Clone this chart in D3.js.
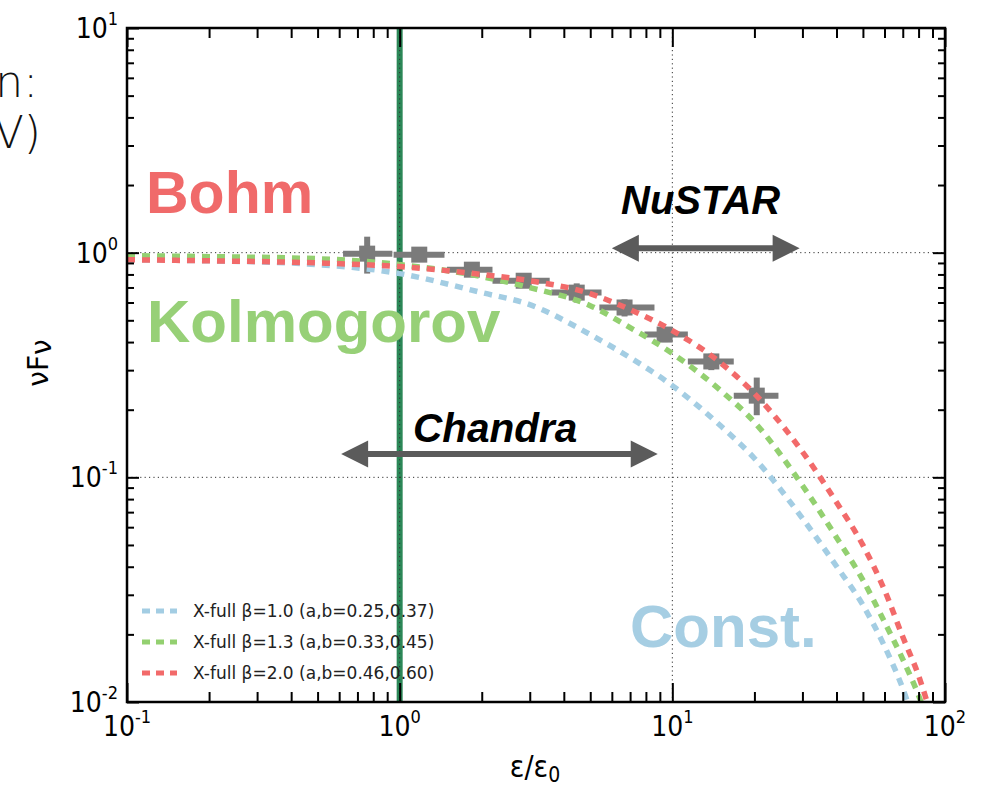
<!DOCTYPE html>
<html>
<head>
<meta charset="utf-8">
<script src="https://cdn.jsdelivr.net/npm/d3@7"></script>
<style>
  html, body { margin: 0; padding: 0; background: #fff; }
  svg { display: block; }
</style>
</head>
<body>
<svg id="chart" width="987" height="789"></svg>
<script>
// ---------------- DATA ----------------
const xTickExps = ["-1", "0", "1", "2"];
const yTickExps = ["-2", "-1", "0", "1"];

// data points (ε/ε0, νFν) with error ranges
const pointsX  = [0.76, 1.18, 1.84, 2.85, 4.46, 6.68, 9.37, 13.9, 20.4];
const pointsY  = [0.99, 0.98, 0.84, 0.75, 0.664, 0.57, 0.432, 0.328, 0.231];
const pointsXLo = [0.62, 0.95, 1.49, 2.19, 3.6, 5.4, 7.9, 11.4, 16.8];
const pointsXHi = [0.94, 1.46, 2.19, 3.55, 5.5, 8.6, 11.4, 16.8, 24.5];
const pointsYLo = [0.807, 0.93, 0.80, 0.71, 0.60, 0.52, 0.40, 0.30, 0.189];
const pointsYHi = [1.178, 1.03, 0.88, 0.79, 0.73, 0.62, 0.46, 0.355, 0.278];

// model curves
const curveX = [0.1, 0.2, 0.5, 1, 2, 3, 5, 7, 10, 15, 20, 30, 40, 50, 60, 70, 80, 90];
const beta10 = [0.93, 0.92, 0.885, 0.807, 0.664, 0.587, 0.432, 0.341, 0.256, 0.170, 0.1215, 0.0657, 0.0402, 0.027, 0.0177, 0.0115, 0.0072, 0.0053];
const beta13 = [0.97, 0.96, 0.94, 0.885, 0.782, 0.699, 0.581, 0.464, 0.356, 0.244, 0.176, 0.092, 0.054, 0.0349, 0.0227, 0.0155, 0.0107, 0.0072];
const beta20 = [0.93, 0.92, 0.90, 0.867, 0.80, 0.75, 0.657, 0.558, 0.45, 0.324, 0.236, 0.13, 0.0774, 0.0499, 0.0315, 0.0195, 0.0131, 0.0083];

const seriesLabels = ["X-full \u03b2=1.0 (a,b=0.25,0.37)", "X-full \u03b2=1.3 (a,b=0.33,0.45)", "X-full \u03b2=2.0 (a,b=0.46,0.60)"];
const seriesColors = ["#a3cde3", "#93d070", "#f26a6a"];

// instrument ranges
const chandraRange = [0.61, 8.84], chandraY = 0.127;
const nustarRange = [6.0, 29.3], nustarY = 1.046;
const markerLine = 1.0;

// ---------------- LAYOUT ----------------
const X0 = 127, X1 = 945, Y0 = 28, Y1 = 702;
const svg = d3.select("#chart");
const x = d3.scaleLog().domain([0.1, 100]).range([X0, X1]);
const y = d3.scaleLog().domain([0.01, 10]).range([Y1, Y0]);

const defs = svg.append("defs");
defs.append("clipPath").attr("id", "clip")
  .append("rect").attr("x", X0).attr("y", Y0).attr("width", X1 - X0).attr("height", Y1 - Y0);

// partial text at the left edge (cropped slide text, as in the reference)
const sideFont = "'DejaVu Sans', sans-serif";
svg.append("text").attr("x", 38).attr("y", 97).attr("text-anchor", "end")
  .attr("font-family", sideFont).attr("font-weight", 200).attr("font-size", 44).attr("fill", "#111").text("n:");
svg.append("text").attr("x", 41).attr("y", 148).attr("text-anchor", "end")
  .attr("font-family", sideFont).attr("font-weight", 200).attr("font-size", 44).attr("fill", "#111").text("V)");

const plot = svg.append("g").attr("clip-path", "url(#clip)");

// vertical green line at ε/ε0 = 1
plot.append("line")
  .attr("x1", x(markerLine)).attr("x2", x(markerLine))
  .attr("y1", Y0).attr("y2", Y1)
  .attr("stroke", "#2b8757").attr("stroke-width", 6);

// grid lines
const gridX = [1, 10], gridY = [0.1, 1];
plot.selectAll(".gx").data(gridX).enter().append("line")
  .attr("x1", d => x(d)).attr("x2", d => x(d)).attr("y1", Y0).attr("y2", Y1)
  .attr("stroke", "#333").attr("stroke-width", 1).attr("stroke-dasharray", "1.2,3.2");
plot.selectAll(".gy").data(gridY).enter().append("line")
  .attr("x1", X0).attr("x2", X1).attr("y1", d => y(d)).attr("y2", d => y(d))
  .attr("stroke", "#333").attr("stroke-width", 1).attr("stroke-dasharray", "1.2,3.2");

// data points
const ptColor = "#7b7b7b";
const pts = pointsX.map((v, i) => ({x: v, y: pointsY[i], xl: pointsXLo[i], xh: pointsXHi[i], yl: pointsYLo[i], yh: pointsYHi[i]}));
const pg = plot.append("g");
pg.selectAll(".eh").data(pts).enter().append("line")
  .attr("x1", d => x(d.xl)).attr("x2", d => x(d.xh)).attr("y1", d => y(d.y)).attr("y2", d => y(d.y))
  .attr("stroke", ptColor).attr("stroke-width", 6);
pg.selectAll(".ev").data(pts).enter().append("line")
  .attr("x1", d => x(d.x)).attr("x2", d => x(d.x)).attr("y1", d => y(d.yl)).attr("y2", d => y(d.yh))
  .attr("stroke", ptColor).attr("stroke-width", 6);
pg.selectAll(".mk").data(pts).enter().append("rect")
  .attr("x", d => x(d.x) - 8).attr("y", d => y(d.y) - 8).attr("width", 16).attr("height", 16)
  .attr("fill", ptColor);

// model curves
const line = d3.line().x(d => x(d[0])).y(d => y(d[1])).curve(d3.curveMonotoneX);
[beta10, beta13, beta20].forEach((s, i) => {
  plot.append("path")
    .attr("d", line(curveX.map((v, j) => [v, s[j]])))
    .attr("fill", "none").attr("stroke", seriesColors[i])
    .attr("stroke-width", 5.5).attr("stroke-dasharray", "8,7");
});

// arrows
function arrow(range, yv) {
  const a = x(range[0]), b = x(range[1]), c = y(yv);
  const hl = 27, hw = 13.5, sw = 3;
  const pts = [[a, c], [a + hl, c - hw], [a + hl, c - sw], [b - hl, c - sw], [b - hl, c - hw], [b, c],
               [b - hl, c + hw], [b - hl, c + sw], [a + hl, c + sw], [a + hl, c + hw]];
  svg.append("polygon").attr("points", pts.map(p => p.join(",")).join(" ")).attr("fill", "#5b5b5b");
}
arrow(chandraRange, chandraY);
arrow(nustarRange, nustarY);

// big annotation labels
const bigFont = "'Liberation Sans', Arial, sans-serif";
function label(t, px, py, size, color, italic) {
  svg.append("text").attr("x", px).attr("y", py)
    .attr("font-family", bigFont).attr("font-weight", "bold")
    .attr("font-style", italic ? "italic" : "normal")
    .attr("font-size", size).attr("fill", color).text(t);
}
label("Bohm", 146, 213, 59, "#f06a6a", false);
label("Kolmogorov", 147, 342, 60, "#97d077", false);
label("Const.", 630, 647, 60, "#a6cee3", false);
label("NuSTAR", 621, 214, 40, "#000", true);
label("Chandra", 413, 442, 40.5, "#000", true);

// legend
const lg = svg.append("g");
seriesLabels.forEach((t, i) => {
  const ly = 611 + i * 31;
  lg.append("line").attr("x1", 142).attr("x2", 177).attr("y1", ly).attr("y2", ly)
    .attr("stroke", seriesColors[i]).attr("stroke-width", 5).attr("stroke-dasharray", "8,6");
  lg.append("text").attr("x", 193).attr("y", ly + 6)
    .attr("font-family", "'DejaVu Sans', sans-serif").attr("font-size", 17).attr("fill", "#222").text(t);
});

// axes frame
svg.append("rect").attr("x", X0).attr("y", Y0).attr("width", X1 - X0).attr("height", Y1 - Y0)
  .attr("fill", "none").attr("stroke", "#000").attr("stroke-width", 2.5);

// ticks
function minorVals(domain) {
  const out = [];
  for (let e = Math.log10(domain[0]); e < Math.log10(domain[1]); e++)
    for (let k = 2; k <= 9; k++) out.push(k * Math.pow(10, e));
  return out;
}
const xMaj = xTickExps.map(e => Math.pow(10, +e));
const yMaj = yTickExps.map(e => Math.pow(10, +e));
const xMin = minorVals(x.domain()), yMin = minorVals(y.domain());

function addAxis(gen, scale, vals, len, tr) {
  const g = svg.append("g").attr("transform", tr)
    .call(gen(scale).tickValues(vals).tickSize(-len).tickFormat(""));
  g.select(".domain").remove();
  g.selectAll(".tick line").attr("stroke", "#000").attr("stroke-width", 2);
}
addAxis(d3.axisBottom, x, xMaj, 19, `translate(0,${Y1})`);
addAxis(d3.axisBottom, x, xMin, 10, `translate(0,${Y1})`);
addAxis(d3.axisTop, x, xMaj, 19, `translate(0,${Y0})`);
addAxis(d3.axisTop, x, xMin, 10, `translate(0,${Y0})`);
addAxis(d3.axisLeft, y, yMaj, 12, `translate(${X0},0)`);
addAxis(d3.axisLeft, y, yMin, 7, `translate(${X0},0)`);
addAxis(d3.axisRight, y, yMaj, 12, `translate(${X1},0)`);
addAxis(d3.axisRight, y, yMin, 7, `translate(${X1},0)`);

// tick labels
const tickFont = "'DejaVu Sans Condensed', 'DejaVu Sans', sans-serif";
function powLabel(px, py, exp, anchor) {
  const t = svg.append("text").attr("x", px).attr("y", py).attr("text-anchor", anchor)
    .attr("font-family", tickFont).attr("font-stretch", "condensed").attr("font-size", 28).attr("fill", "#000");
  t.append("tspan").text("10");
  t.append("tspan").attr("dy", -13).attr("font-size", 18).text(exp);
}
xTickExps.forEach(e => powLabel(x(Math.pow(10, +e)), 736, e, "middle"));
yTickExps.forEach(e => powLabel(118, y(Math.pow(10, +e)) + 10, e, "end"));

// axis titles
const xt = svg.append("text").attr("x", 535).attr("y", 777).attr("text-anchor", "middle")
  .attr("font-family", tickFont).attr("font-stretch", "condensed").attr("font-size", 30).attr("fill", "#000");
xt.append("tspan").text("\u03b5/\u03b5");
xt.append("tspan").attr("dy", 5).attr("font-size", 21).text("0");

const yt = svg.append("text").attr("transform", "translate(48,363) rotate(-90)").attr("text-anchor", "middle")
  .attr("font-family", "'DejaVu Sans', sans-serif").attr("font-size", 28).attr("fill", "#000");
yt.append("tspan").text("\u03bdF");
yt.append("tspan").attr("dy", 3).text("\u03bd");
</script>
</body>
</html>
